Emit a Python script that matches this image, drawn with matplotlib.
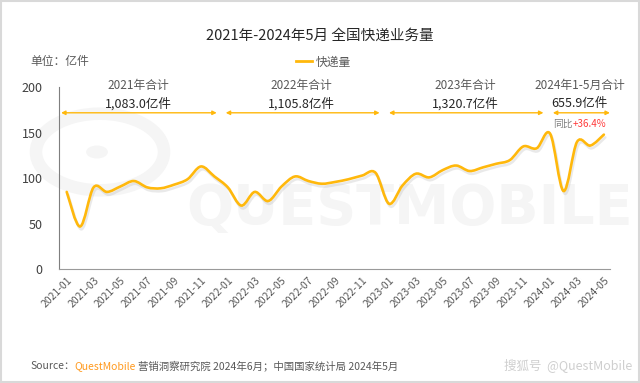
import matplotlib
matplotlib.use("Agg")
import matplotlib.pyplot as plt
import matplotlib.patheffects as pe
from matplotlib.path import Path
from matplotlib.patches import PathPatch, Rectangle, Circle
from matplotlib.lines import Line2D
import numpy as np
import pandas as pd

plt.rcParams["font.family"] = ["Noto Sans CJK SC", "DejaVu Sans"]

# ── data (亿件) ───────────────────────────────────────────────────────────────
months = pd.date_range("2021-01", "2024-05", freq="MS").strftime("%Y-%m").tolist()
volume = [85, 47, 90, 85, 91, 97, 90, 89, 93, 99, 113, 102,
          90, 70, 85, 75, 91, 102, 97, 94, 96, 99, 103, 106,
          72, 92, 105, 101, 109, 114, 108, 112, 116, 120, 135, 133,
          149, 86, 140, 136, 148]
yearly_titles = ["2021年合计", "2022年合计", "2023年合计", "2024年1-5月合计"]
yearly_totals = ["1,083.0亿件", "1,105.8亿件", "1,320.7亿件", "655.9亿件"]
yoy_label = "+36.4%"

ORANGE = "#FFB80C"
GRAY = "#595959"
WM = "#f5f5f5"

fig = plt.figure(figsize=(6.4, 3.83), dpi=100)

# faint background watermark (drawn below everything)
fig.text(0.64, 0.455, "QUESTMOBILE", ha="center", va="center", fontsize=40,
         fontweight="bold", color=WM, zorder=-5, family="DejaVu Sans")
fig.patches.append(Circle((100 / 640, 1 - 152 / 383), 0.1, transform=fig.transFigure,
                          facecolor="none", edgecolor=WM, lw=9, zorder=-5))
fig.patches.append(Circle((97 / 640, 1 - 152 / 383), 0.017, transform=fig.transFigure,
                          facecolor=WM, edgecolor="none", zorder=-5))

ax = fig.add_axes([0.0927, 0.297, 0.8603, 0.475])
ax.set_zorder(1)
ax.set_facecolor("none")

# smooth line: Catmull-Rom turned into cubic Bezier segments
x = np.arange(len(volume), dtype=float)
y = np.array(volume, dtype=float)
pts = np.column_stack([x, y])
ext = np.vstack([pts[0], pts, pts[-1]])
verts = [tuple(pts[0])]
codes = [Path.MOVETO]
for i in range(len(pts) - 1):
    p0, p1, p2, p3 = ext[i], ext[i + 1], ext[i + 2], ext[i + 3]
    c1 = p1 + (p2 - p0) / 6
    c2 = p2 - (p3 - p1) / 6
    verts += [tuple(c1), tuple(c2), tuple(p2)]
    codes += [Path.CURVE4] * 3
curve = PathPatch(Path(verts, codes), facecolor="none", edgecolor=ORANGE, lw=1.9,
                  zorder=3, capstyle="round",
                  path_effects=[pe.SimpleLineShadow(offset=(1, -2), shadow_color="#aaaaaa", alpha=0.25),
                                pe.Normal()])
ax.add_patch(curve)

ax.set_xlim(-0.55, 40.45)
ax.set_ylim(0, 200)
ax.set_yticks(range(0, 201, 50))
ax.set_xticks(x[::2])
ax.set_xticklabels(months[::2], rotation=45, ha="right", rotation_mode="anchor",
                   fontsize=7.5, color=GRAY)
ax.tick_params(axis="y", length=0, pad=12, labelsize=9, labelcolor="#404040")
ax.tick_params(axis="x", length=0, pad=4)
for s in ["top", "right"]:
    ax.spines[s].set_visible(False)
ax.spines["left"].set_color("#7f7f7f")
ax.spines["bottom"].set_color("#9a9a9a")

# yearly spans
spans = [(-0.42, 11.17), (11.84, 23.3), (24.0, 35.5), (36.2, 40.45)]
centers = [5.3, 17.5, 29.7, 38.2]
for (a, b), c, t1, t2 in zip(spans, centers, yearly_titles, yearly_totals):
    ax.annotate("", xy=(a, 172), xytext=(b, 172), annotation_clip=False,
                arrowprops=dict(arrowstyle="<|-|>", color=ORANGE, lw=1.0,
                                mutation_scale=6, shrinkA=0, shrinkB=0))
    ax.text(c, 202, t1, ha="center", va="center", fontsize=8.5, color=GRAY, clip_on=False)
    ax.text(c, 182, t2, ha="center", va="center", fontsize=9, color="#262626", clip_on=False)
ax.text(37.7, 160, "同比", ha="right", va="center", fontsize=7, color="#7f7f7f")
ax.text(37.7, 160, yoy_label, ha="left", va="center", fontsize=7, color="#FF3B3B")

# titles
fig.text(0.5, 1 - 36 / 383, "2021年-2024年5月 全国快递业务量", ha="center", va="center",
         fontsize=10.5, color="#262626")
fig.text(30 / 640, 1 - 62 / 383, "单位：亿件", ha="left", va="center", fontsize=8.5, color=GRAY)
fig.legend(handles=[Line2D([], [], color=ORANGE, lw=2)], labels=["快递量"],
           loc="center", bbox_to_anchor=(0.505, 1 - 62 / 383), frameon=False,
           fontsize=8.5, handlelength=1.4, handletextpad=0.3, labelcolor=GRAY)

# source line, pieces chained one after another
src_y = 1 - 366 / 383
s1 = fig.text(30 / 640, src_y, "Source：", ha="left", va="center", fontsize=7.5, color=GRAY)
fig.canvas.draw()
r = fig.canvas.get_renderer()
bb1 = s1.get_window_extent(r)
s2 = fig.text(bb1.x1 / 640, src_y, "QuestMobile", ha="left", va="center",
              fontsize=7.5, color="#FF9A1F")
bb2 = s2.get_window_extent(r)
fig.text(bb2.x1 / 640 + 0.003, src_y, "营销洞察研究院 2024年6月；中国国家统计局 2024年5月",
         ha="left", va="center", fontsize=7.5, color=GRAY)
fig.text(632 / 640, src_y, "搜狐号  @QuestMobile", ha="right", va="center",
         fontsize=9, color="#cfcfcf")

fig.patches.append(Rectangle((0.001, 0.002), 0.997, 0.996, transform=fig.transFigure,
                             facecolor="none", edgecolor="#d9d9d9", lw=1.5))

fig.savefig("out.png", dpi=100)
